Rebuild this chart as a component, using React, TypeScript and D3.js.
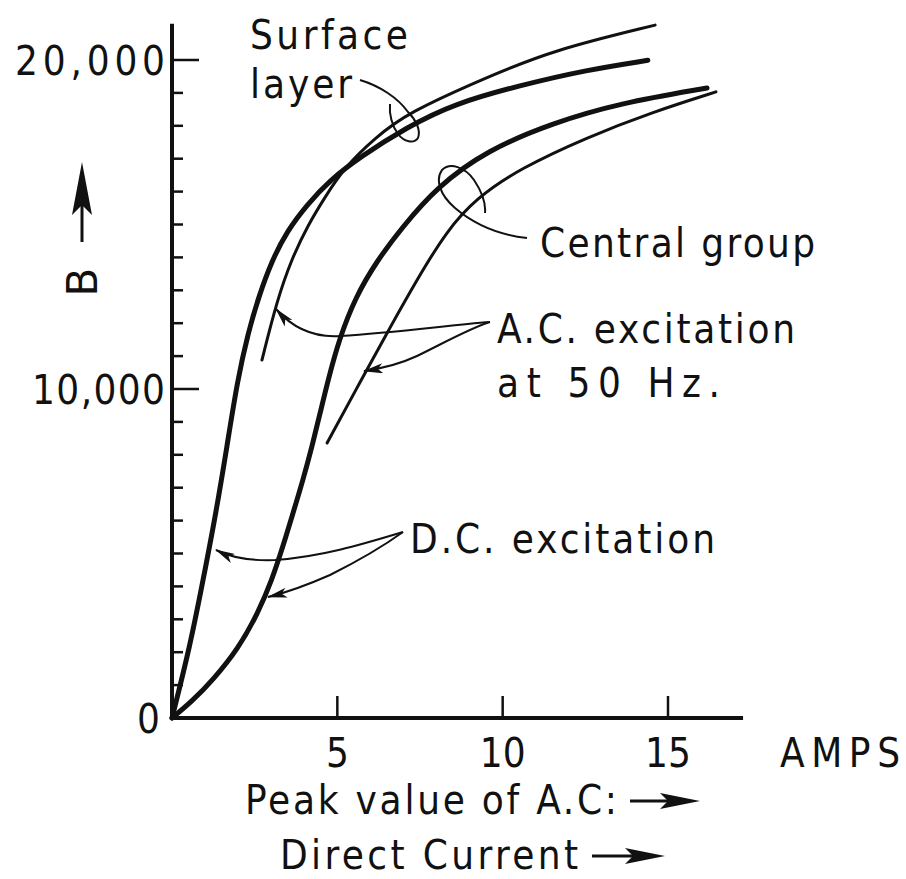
import React from "react";
import * as d3 from "d3";

// ---- Data (amps, gauss) ----
const dcSurface: [number, number][] = [
  [0, 0], [0.54, 2160], [0.94, 4190], [1.33, 6230], [1.66, 8240], [1.98, 10270],
  [2.3, 11700], [2.62, 12800], [3.02, 13900], [3.48, 14800], [4.08, 15600],
  [4.78, 16350], [5.68, 17050], [7.11, 17960], [8.5, 18660], [10.52, 19230],
  [12.55, 19700], [14.39, 19990],
];
const acSurface: [number, number][] = [
  [2.72, 10880], [3.18, 12710], [3.63, 13980], [4.11, 14980], [4.63, 15840],
  [5.23, 16750], [6.14, 17630], [7.11, 18390], [9.53, 19480], [11.52, 20300],
  [14.61, 21060],
];
const dcCentral: [number, number][] = [
  [0, 0], [0.6, 500], [1.24, 1160], [2.0, 2100], [2.6, 3190], [3.02, 4190],
  [3.35, 5200], [3.66, 6230], [3.96, 7230], [4.23, 8240], [4.48, 9270],
  [4.72, 10270], [5.05, 11500], [5.55, 12800], [6.2, 13900], [6.95, 14900],
  [8.01, 16140], [9.53, 17260], [11.52, 18090], [13.55, 18690], [16.18, 19150],
];
const acCentral: [number, number][] = [
  [4.69, 8360], [5.72, 10270], [6.55, 11790], [7.4, 13310], [8.3, 14800],
  [9.2, 15800], [10.52, 16700], [12.55, 17650], [14.54, 18420], [16.45, 19030],
];

const xTickValues = [5, 10, 15];
const xTickLabels = ["5", "10", "15"];
const yMajorTicks = [0, 10000, 20000];
const yMajorLabels = ["0", "10,000", "20,000"];
const yMinorTicks = d3.range(1000, 20001, 1000);

const FONT = "'DejaVu Sans', 'Liberation Sans', sans-serif";
const FS = 40;

export default function App() {
  const x = d3.scaleLinear().domain([0, 15]).range([172, 668]);
  const y = d3.scaleLinear().domain([0, 20000]).range([718, 60]);
  const line = d3
    .line<[number, number]>()
    .x((d) => x(d[0]))
    .y((d) => y(d[1]))
    .curve(d3.curveBasis);

  const xEnd = 17.27;
  const yTop = 21100;

  const txt = (
    s: string,
    px: number,
    py: number,
    len?: number,
    anchor: "start" | "middle" | "end" = "start",
    fs = FS
  ) => (
    <text
      x={px}
      y={py}
      textAnchor={anchor}
      fontFamily={FONT}
      fontSize={fs}
      fill="#111"
      style={{ fontStretch: "condensed" }}
      {...(len ? { textLength: len, lengthAdjust: "spacing" } : {})}
    >
      {s}
    </text>
  );

  return (
    <svg
      width={906}
      height={879}
      style={{ position: "absolute", left: 0, top: 0, background: "#fff" }}
    >
      <defs>
        <marker
          id="ah"
          viewBox="0 0 20 10"
          refX="19"
          refY="5"
          markerWidth="20"
          markerHeight="10"
          markerUnits="userSpaceOnUse"
          orient="auto"
        >
          <path d="M0,0 L20,5 L0,10 L5,5 Z" fill="#111" />
        </marker>
      </defs>
      <rect width={906} height={879} fill="#fff" />

      {/* axes */}
      <line x1={x(0)} y1={y(0)} x2={x(0)} y2={y(yTop)} stroke="#111" strokeWidth={4} />
      <line x1={x(0)} y1={y(0)} x2={x(xEnd)} y2={y(0)} stroke="#111" strokeWidth={4} />
      {yMinorTicks.map((t) => (
        <line
          key={t}
          x1={x(0)}
          x2={x(0) + (t % 10000 === 0 ? 27 : 11)}
          y1={y(t)}
          y2={y(t)}
          stroke="#111"
          strokeWidth={2.5}
        />
      ))}
      {xTickValues.map((t) => (
        <line key={t} x1={x(t)} x2={x(t)} y1={y(0)} y2={y(0) - 22} stroke="#111" strokeWidth={2.5} />
      ))}
      {yMajorTicks.map((t, i) => (
        <g key={t}>{txt(yMajorLabels[i], t === 0 ? 160 : 165, y(t) + 15, t === 20000 ? 150 : t === 10000 ? 133 : undefined, "end")}</g>
      ))}
      {xTickValues.map((t, i) => (
        <g key={t}>{txt(xTickLabels[i], x(t), 767, undefined, "middle")}</g>
      ))}
      {txt("AMPS", 780, 767, 120)}
      {txt("Peak value of A.C:", 245, 814, 372)}
      {txt("Direct Current", 280, 869, 298)}
      <path d="M630,801 L672,801" stroke="#111" strokeWidth={3} />
      <path d="M700,801 L660,793 L668,801 L660,809 Z" fill="#111" />
      <path d="M592,856 L638,856" stroke="#111" strokeWidth={3} />
      <path d="M665,856 L625,848 L633,856 L625,864 Z" fill="#111" />

      {/* B label */}
      <text
        transform="translate(97,282) rotate(-90)"
        textAnchor="middle"
        fontFamily={FONT}
        fontSize={42}
        fill="#111"
      >
        B
      </text>
      <line x1={82} y1={242} x2={82} y2={200} stroke="#111" strokeWidth={3} />
      <path d="M82,162 L72,215 L82,205 L92,215 Z" fill="#111" />

      {/* curves */}
      <path d={line(dcSurface) || ""} fill="none" stroke="#111" strokeWidth={5} strokeLinecap="round" />
      <path d={line(acSurface) || ""} fill="none" stroke="#111" strokeWidth={3} strokeLinecap="round" />
      <path d={line(dcCentral) || ""} fill="none" stroke="#111" strokeWidth={5} strokeLinecap="round" />
      <path d={line(acCentral) || ""} fill="none" stroke="#111" strokeWidth={3} strokeLinecap="round" />

      {/* annotations */}
      {txt("Surface", 250, 49, 158)}
      {txt("layer", 250, 98, 102)}
      {txt("Central group", 540, 257, 275)}
      {txt("A.C. excitation", 497, 343, 298)}
      {txt("at 50 Hz.", 497, 397, 223)}
      {txt("D.C. excitation", 410, 553, 305)}

      <g fill="none" stroke="#111" strokeWidth={2}>
        <path d="M360,80 C380,86 398,98 408,112 C416,120 421,130 418,138 C414,144 404,142 398,134 C392,126 389,114 390,104" />
        <path d="M527,238 C500,235 475,225 455,208 C440,195 435,180 442,170 C450,162 465,167 474,180 C482,192 486,203 485,213" />
        <path d="M490,322 C450,325 400,332 340,336 C310,338 290,325 276,309" markerEnd="url(#ah)" />
        <path d="M490,322 C470,328 440,345 417,356 C400,364 385,368 364,371" markerEnd="url(#ah)" />
        <path d="M403,532 C360,545 320,557 275,560 C250,561 230,557 216,550" markerEnd="url(#ah)" />
        <path d="M403,532 C385,545 360,560 330,575 C305,586 285,593 268,597" markerEnd="url(#ah)" />
      </g>
    </svg>
  );
}
